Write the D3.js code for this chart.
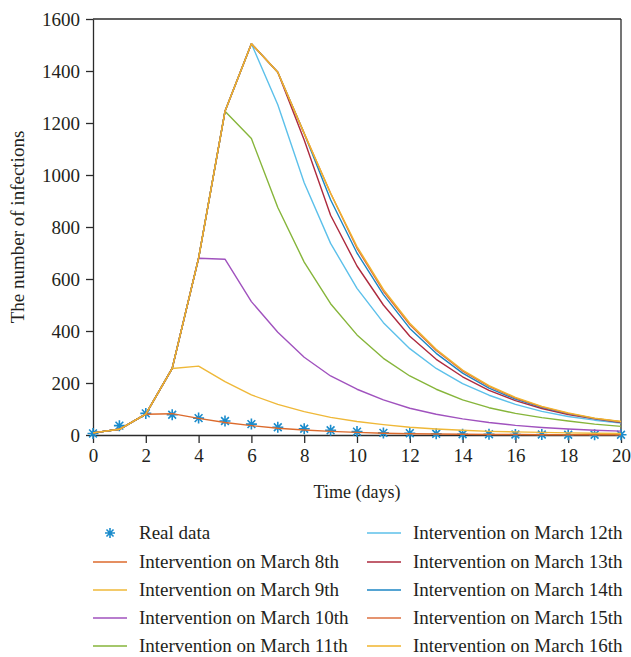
<!DOCTYPE html>
<html><head><meta charset="utf-8">
<script src="https://cdn.jsdelivr.net/npm/d3@7"></script>
<style>
body{margin:0;background:#fff}
text{font-family:"Liberation Serif","DejaVu Serif",serif;fill:#231f20}
</style>
</head><body>
<svg id="c" width="631" height="657"></svg>
<script>
const days = [0,1,2,3,4,5,6,7,8,9,10,11,12,13,14,15,16,17,18,19,20];
const xTicks = [0,2,4,6,8,10,12,14,16,18,20];
const yTicks = [0,200,400,600,800,1000,1200,1400,1600];

const realData = [6,36,83,78,65,54,42,30,24,18,13,8,7,5,3,3,2,2,1,1,1];

const seriesNames = [
  "Intervention on March 8th","Intervention on March 9th","Intervention on March 10th",
  "Intervention on March 11th","Intervention on March 12th","Intervention on March 13th",
  "Intervention on March 14th","Intervention on March 15th","Intervention on March 16th"];
const seriesColors = ["#dc6a2c","#efb838","#a052be","#86b53a","#5cc0ea","#ad2a3e","#1c86c4","#dd7040","#f0b42c"];

const march8  = [8,22,80,82,64,48,36,26,19,14,10,7,5,4,3,2,2,1,1,1,1];
const march9  = [8,22,80,256,265,205,154,118,90,68,52,40,30,23,18,14,12,10,8,7,6];
const march10 = [8,22,80,256,680,676,513,395,299,227,176,135,103,80,62,48,37,29,23,18,15];
const march11 = [8,22,80,256,680,1245,1140,875,665,505,385,295,227,176,135,105,83,67,54,42,33];
const march12 = [8,22,80,256,680,1245,1505,1270,970,737,564,432,332,256,198,153,118,91,71,57,46];
const march13 = [8,22,80,256,680,1245,1505,1395,1135,845,650,500,380,291,224,172,132,102,79,62,48];
const march14 = [8,22,80,256,680,1245,1505,1395,1160,905,700,540,410,314,238,180,138,106,82,63,50];
const march15 = [8,22,80,256,680,1245,1505,1395,1160,930,718,553,424,325,246,187,142,108,83,64,51];
const march16 = [8,22,80,256,680,1245,1505,1395,1160,930,725,560,430,330,250,190,145,110,85,65,52];
const seriesValues = [march8,march9,march10,march11,march12,march13,march14,march15,march16];

const svg = d3.select("#c");
const L=93, R=621, T=19, B=435;
const x = d3.scaleLinear().domain([0,20]).range([L,R]);
const y = d3.scaleLinear().domain([0,1600]).range([B,T]);
const axisColor = "#2b2b2b";

// box
svg.append("line").attr("x1",L).attr("x2",R).attr("y1",T).attr("y2",T).attr("stroke",axisColor).attr("stroke-width",1.3);
svg.append("line").attr("x1",R).attr("x2",R).attr("y1",T).attr("y2",B).attr("stroke",axisColor).attr("stroke-width",1.3);

const xa = svg.append("g").attr("transform",`translate(0,${B})`)
  .call(d3.axisBottom(x).tickValues(xTicks).tickFormat(d3.format("d")).tickSize(8).tickSizeOuter(0).tickPadding(6));
const ya = svg.append("g").attr("transform",`translate(${L},0)`)
  .call(d3.axisLeft(y).tickValues(yTicks).tickFormat(d3.format("d")).tickSize(7).tickSizeOuter(0).tickPadding(6));
[xa,ya].forEach(g=>{
  g.selectAll("path").attr("stroke",axisColor).attr("stroke-width",1.3);
  g.selectAll("line").attr("stroke",axisColor).attr("stroke-width",1.3);
  g.selectAll("text").style("font-family",'"Liberation Serif",serif').style("font-size","19px").attr("fill","#231f20");
});

svg.append("text").attr("x",(L+R)/2).attr("y",498).attr("text-anchor","middle")
  .style("font-size","18px").text("Time (days)");
svg.append("text").attr("transform",`translate(24,${(T+B)/2}) rotate(-90)`).attr("text-anchor","middle")
  .style("font-size","19px").text("The number of infections");

function asterisk(g, cx, cy, r, color){
  const p = d3.path();
  for (let k=0;k<4;k++){
    const a = k*Math.PI/4;
    p.moveTo(cx-r*Math.sin(a), cy-r*Math.cos(a));
    p.lineTo(cx+r*Math.sin(a), cy+r*Math.cos(a));
  }
  g.append("path").attr("d",p.toString()).attr("stroke",color).attr("stroke-width",1.6).attr("fill","none");
}
const realColor = "#1b8ccc";
const mk = svg.append("g");
days.forEach((d,i)=>asterisk(mk, x(d), y(realData[i]), 5.5, realColor));

const line = d3.line().x((v,i)=>x(days[i])).y(v=>y(v));
seriesValues.forEach((vals,s)=>{
  svg.append("path").attr("d",line(vals)).attr("fill","none")
    .attr("stroke",seriesColors[s]).attr("stroke-width",1.4).attr("stroke-linejoin","round");
});

// legend
const leg = svg.append("g");
const rowsY = [533,562,590,618,646];
const colX = [93,367];
const items = [{name:"Real data",marker:true}].concat(seriesNames.map((n,i)=>({name:n,color:seriesColors[i]})));
items.forEach((it,i)=>{
  const col = i<5?0:1, row = i<5?i:i-5;
  const lx = colX[col], ly = rowsY[row];
  if (it.marker) asterisk(leg, lx+17, ly, 5, realColor);
  else leg.append("line").attr("x1",lx).attr("x2",lx+34).attr("y1",ly).attr("y2",ly)
    .attr("stroke",it.color).attr("stroke-width",1.4);
  leg.append("text").attr("x",lx+46).attr("y",ly).attr("dy","0.33em")
    .style("font-size","19px").text(it.name);
});
</script>
</body></html>
